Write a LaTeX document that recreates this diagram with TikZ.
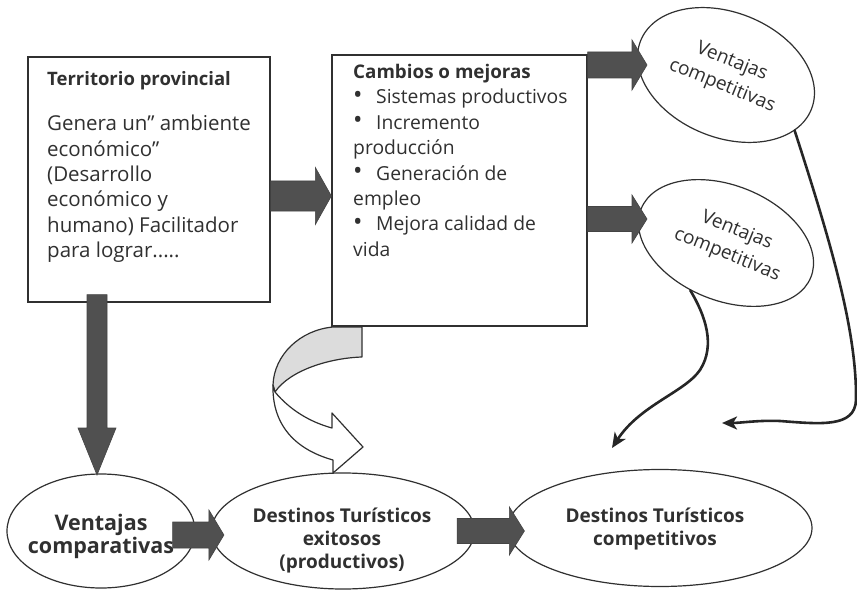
\documentclass[tikz,border=0pt]{standalone}
\usepackage{fontspec}
\setmainfont{Open Sans}
\usetikzlibrary{shapes.geometric,calc,arrows.meta}
\definecolor{ink}{HTML}{303030}
\definecolor{arrowfill}{HTML}{505050}
\definecolor{ribbon}{HTML}{DCDCDC}
\newcommand{\hblock}[5]{%
  \filldraw[blockfill] let \p1=(#1), \p2=(#2) in
    (\x1,\y1+#3pt) -- (\x2-#5pt,\y1+#3pt) -- (\x2-#5pt,\y1+#4pt) -- (\x2,\y1)
    -- (\x2-#5pt,\y1-#4pt) -- (\x2-#5pt,\y1-#3pt) -- (\x1,\y1-#3pt) -- cycle;}
\newcommand{\vblock}[5]{%
  \filldraw[blockfill] let \p1=(#1), \p2=(#2) in
    (\x1-#3pt,\y1) -- (\x1-#3pt,\y2+#5pt) -- (\x1-#4pt,\y2+#5pt) -- (\x1,\y2)
    -- (\x1+#4pt,\y2+#5pt) -- (\x1+#3pt,\y2+#5pt) -- (\x1+#3pt,\y1) -- cycle;}
\newcommand{\bul}{\makebox[23pt][l]{\raisebox{0.5pt}{\scalebox{1.3}{•}}}}
\begin{document}
\begin{tikzpicture}[x=1pt,y=-1pt,
  box/.style={draw=ink, line width=1.3pt, rectangle, inner sep=0pt},
  oval/.style={draw=ink, line width=1.2pt, ellipse, inner sep=0pt},
  boxtxt/.style={text=ink, align=left, anchor=north west, inner sep=0pt},
  ovaltxt/.style={text=ink, align=center, inner sep=0pt},
  rottxt/.style={text=ink, align=center, inner sep=0pt, rotate=-22,
                 font=\fontsize{19}{26}\selectfont},
  blockfill/.style={fill=arrowfill, draw=arrowfill!85!black, line width=0.6pt},
  conn/.style={draw=ink!80!black, line width=2.6pt, line cap=round,
               -{Stealth[length=15pt,width=13pt,inset=4pt]}},
  rib/.style={draw=ink, line width=1.2pt, line join=round}]
\useasboundingbox (0,0) rectangle (857,591);
\fill[white] (0,0) rectangle (857,591);

% boxes
\node[box, minimum width=242pt, minimum height=245pt] (box1) at (149,179.5) {};
\node[box, minimum width=255pt, minimum height=271pt] (box2) at (459.5,190.5) {};
\node[boxtxt, font=\fontsize{20.5}{25.4}\selectfont] (box1t) at (47,71)
  {{\fontsize{18.5}{25.4}\selectfont\bfseries Territorio provincial}\\[20pt]
  Genera un” ambiente\\ económico”\\ (Desarrollo\\ económico y\\
  humano) Facilitador\\ para lograr.....};
\node[boxtxt, font=\fontsize{19.3}{25.4}\selectfont] (box2t) at (353,64)
  {{\fontsize{18.8}{25.4}\selectfont\bfseries Cambios o mejoras}\\
  \bul Sistemas productivos\\
  \bul Incremento\\ producción\\
  \bul Generación de\\ empleo\\
  \bul Mejora calidad de\\ vida};

% ellipses
\node[oval, minimum width=188pt, minimum height=114pt] (vcmp) at (101,531) {};
\node[oval, minimum width=263pt, minimum height=116pt] (exi) at (343,531) {};
\node[oval, minimum width=304pt, minimum height=117pt] (cmpt) at (660,528) {};
\node[oval, rotate=-22, minimum width=184pt, minimum height=125pt] (vc1) at (726,75) {};
\node[oval, rotate=-22, minimum width=183pt, minimum height=115pt] (vc2) at (726,243) {};

\node[ovaltxt, font=\fontsize{21.5}{23}\selectfont\bfseries] (vcmpt) at (101,536) {Ventajas\\comparativas};
\node[ovaltxt, font=\fontsize{19}{23}\selectfont\bfseries] (exit) at (342,541) {Destinos Turísticos\\exitosos\\(productivos)};
\node[ovaltxt, font=\fontsize{19}{22}\selectfont\bfseries] (cmptt) at (655,529) {Destinos Turísticos\\competitivos};
\node[rottxt] (vc1t) at (727,74) {Ventajas\\competitivas};
\node[rottxt] (vc2t) at (732,243) {Ventajas\\competitivas};

% block arrows
\coordinate (a1s) at ($(box1.east)+(0,16.5)$);
\coordinate (a1t) at (box2.west |- a1s);
\hblock{a1s}{a1t}{15}{28.5}{16}
\coordinate (a2s) at ($(box2.east)+(0,-125.5)$);
\coordinate (a2t) at (647,65);
\hblock{a2s}{a2t}{13}{25}{15}
\coordinate (a3s) at ($(box2.east)+(0,28.5)$);
\coordinate (a3t) at (647,219);
\hblock{a3s}{a3t}{12.5}{24}{15}
\coordinate (dns) at ($(box1.south)+(-52,-8)$);
\coordinate (dnt) at (97,475);
\vblock{dns}{dnt}{10}{19}{47}
\coordinate (b1s) at ($(vcmp.east)+(-23,4)$);
\coordinate (b1t) at ($(exi.west)+(13,4)$);
\hblock{b1s}{b1t}{13}{25}{15}
\coordinate (b2s) at ($(exi.east)+(-18,0)$);
\coordinate (b2t) at ($(cmpt.west)+(17,2)$);
\hblock{b2s}{b2t}{12.5}{24}{15}

% ribbon (U-turn) arrow
\filldraw[rib, fill=ribbon] (333,327) -- (362,327) -- (362,357)
  .. controls (330,358) and (290,370) .. (275,392)
  -- (273,385) .. controls (274,355) and (300,330) .. (333,327) -- cycle;
\filldraw[rib, fill=white] (273,385) -- (275,392)
  .. controls (290,410) and (310,422) .. (332,428)
  -- (332,413) -- (363,447) -- (333,473) -- (333,460)
  .. controls (290,448) and (272,420) .. (273,385) -- cycle;

% curved connectors
\coordinate (e1) at (722,423);
\coordinate (e2) at (612,448);
\draw[conn] (vc1.-17) .. controls (830,240) and (857,330) .. (856,400)
  .. controls (855,428) and (820,424) .. (780,421)
  .. controls (760,420) and (740,423) .. (e1);
\draw[conn] (vc2.255) .. controls (705,315) and (716,345) .. (700,370)
  .. controls (685,392) and (640,405) .. (e2);
\end{tikzpicture}
\end{document}
